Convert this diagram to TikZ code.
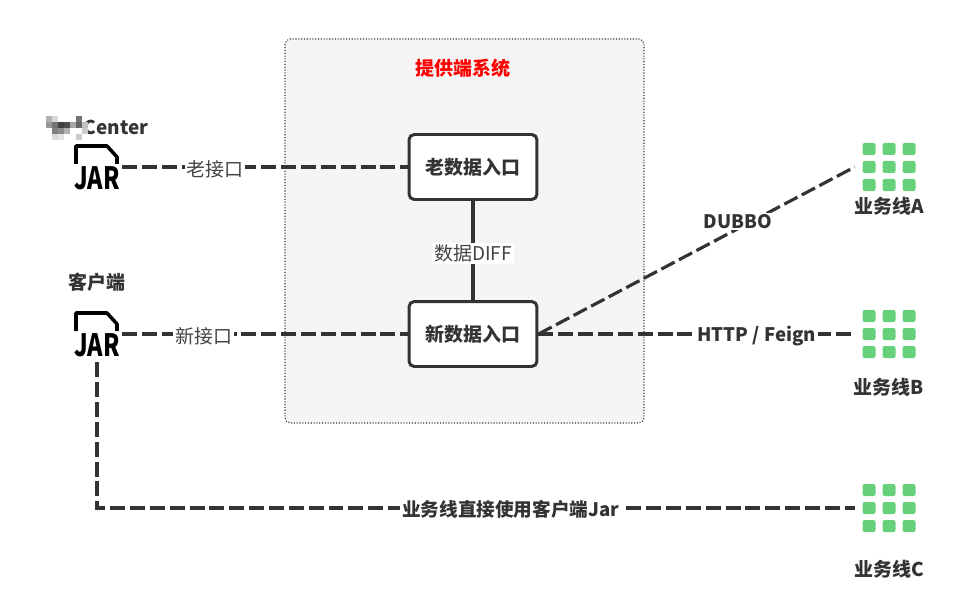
\documentclass[tikz,border=0pt]{standalone}
\usepackage{fontspec}
\usepackage{xcolor}
\setmainfont{Noto Sans CJK SC}
\definecolor{inkgray}{HTML}{333333}
\definecolor{labelgray}{HTML}{444444}
\definecolor{panelgray}{HTML}{F5F5F5}
\definecolor{dotgreen}{HTML}{66D17A}
\tikzset{
  panelbox/.style={draw=inkgray, densely dotted, line width=0.6pt, fill=panelgray, rounded corners=3pt},
  entrybox/.style={draw=inkgray, line width=1.7pt, fill=white, rounded corners=3pt, minimum width=2.56cm, minimum height=1.3cm, font=\fontsize{10.8pt}{12pt}\selectfont\bfseries, text=inkgray},
  iconbox/.style={minimum width=1cm, minimum height=1.12cm, inner sep=0pt},
  gridbox/.style={minimum width=1.36cm, minimum height=0.9cm, inner sep=0pt},
  titletext/.style={inner sep=0pt, yshift=-0.01cm, font=\fontsize{10.8pt}{12pt}\selectfont\bfseries, text=inkgray},
  linklabel/.style={fill=white, inner sep=1pt, yshift=-0.04cm, font=\fontsize{10.8pt}{12pt}\selectfont, text=labelgray},
  boldlabel/.style={fill=white, inner sep=1pt, yshift=-0.03cm, font=\fontsize{10.6pt}{12pt}\selectfont\bfseries, text=inkgray},
  link/.style={draw=inkgray, line width=1.8pt, dash pattern=on 8.5pt off 2.8pt},
  pics/jaricon/.style={code={
    \draw[line width=2pt, black, line join=round] (-21,-3) -- (-21,-21) -- (10,-21) -- (20,-10) -- (20,-3);
    \node[inner sep=0pt, text=black] at (0,11) {\scalebox{0.76}[1]{\fontsize{17.5pt}{18pt}\selectfont\bfseries JAR}};
  }},
  pics/dotgrid/.style={code={
    \foreach \px in {-20,0,20} \foreach \py in {-18,0,18}
      \fill[dotgreen, rounded corners=1.2pt] (\px-6.5,\py-6) rectangle (\px+6.5,\py+6);
  }}
}
\begin{document}
\begin{tikzpicture}[x=0.02cm, y=-0.02cm]
\useasboundingbox (0,0) rectangle (964,608);
% Provider system panel
\fill[white] (0,0) rectangle (964,608);
\draw[panelbox] (285,39) rectangle (644,423);
\node[inner sep=0pt, text=red, font=\fontsize{10.8pt}{12pt}\selectfont\bfseries] (paneltitle) at (463,68) {提供端系统};
% Entry boxes
\node[entrybox] (oldentry) at (473,167) {老数据入口};
\node[entrybox] (newentry) at (473,334) {新数据入口};
% Jar icons on the left
\node[iconbox] (oldjar) at (97,167) {};
\node[iconbox] (newjar) at (97,334) {};
\pic at (oldjar.center) {jaricon};
\pic at (newjar.center) {jaricon};
\node[titletext] (oldtitle) at (116,127) {Center};
\node[titletext] (newtitle) at (97,282) {客户端};
% Blurred word in front of Center
\foreach \bx/\by/\bc in {46/116/30,52/116/15,46/122/40,52/122/55,58/122/75,64/122/70,70/122/35,76/116/55,76/122/60,82/122/25,52/128/50,58/128/45,64/128/30,82/128/20,52/134/15,58/134/10,76/134/20}
  \fill[black!\bc] (\bx,\by) rectangle ++(6,6);
% Business line icons on the right
\node[gridbox] (linea) at (889,167) {};
\node[gridbox] (lineb) at (889,334) {};
\node[gridbox] (linec) at (889,508) {};
\pic at (linea.center) {dotgrid};
\pic at (lineb.center) {dotgrid};
\pic at (linec.center) {dotgrid};
\node[titletext] (atitle) at (889,206) {业务线A};
\node[titletext] (btitle) at (889,387) {业务线B};
\node[titletext] (ctitle) at (889,569) {业务线C};
% Connectors
\draw[link] (oldjar.east) -- node[linklabel, pos=0.325] {老接口} (oldentry.west);
\draw[link] (newjar.east) -- node[linklabel, pos=0.285] {新接口} (newentry.west);
\draw[inkgray, line width=1.9pt] (oldentry.south) -- node[linklabel, pos=0.51] {数据DIFF} (newentry.north);
\draw[link] (newentry.east) -- (linea.west);
\node[boldlabel] (dubbolabel) at (738,220) {DUBBO};
\draw[link] (newentry.east) -- node[boldlabel, pos=0.69] {HTTP / Feign} (lineb.west);
\draw[link] (newjar.south) |- node[boldlabel, pos=0.773] {业务线直接使用客户端Jar} (linec.west);
\end{tikzpicture}
\end{document}
